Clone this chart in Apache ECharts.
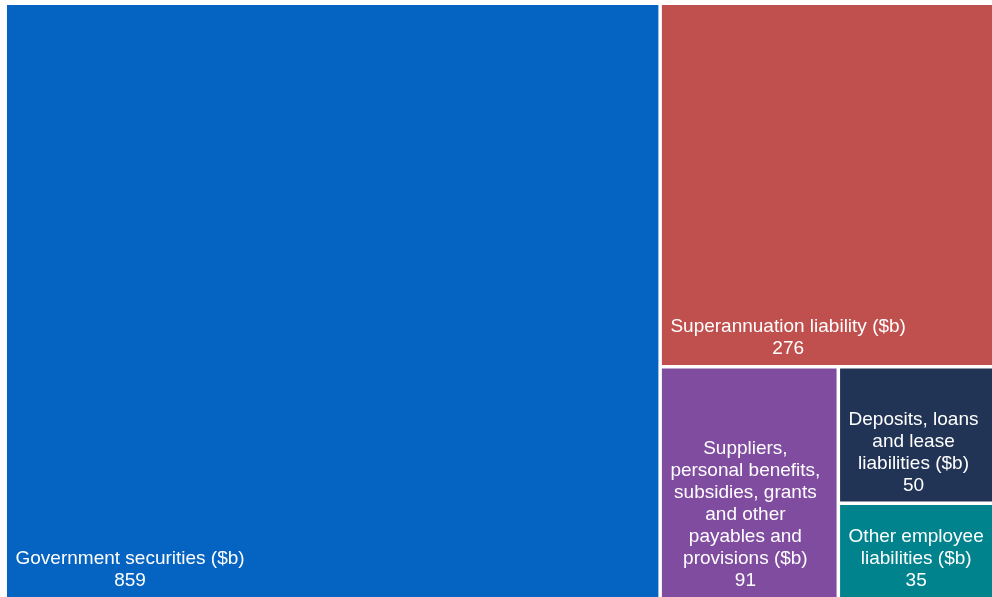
<!DOCTYPE html>
<html>
<head>
<meta charset="utf-8">
<title>Liabilities ($b)</title>
<script src="https://cdn.jsdelivr.net/npm/echarts@6/dist/echarts.min.js"></script>
<style>
  html, body { margin: 0; padding: 0; background: #ffffff; overflow: hidden; }
  #chart { width: 992px; height: 597px; }
</style>
</head>
<body>
<div id="chart"></div>
<script>
// Liability categories (line breaks are where the labels wrap) and their values in $b
const categories = [
  'Government securities ($b)',
  'Superannuation liability ($b)',
  'Suppliers,\npersonal benefits,\nsubsidies, grants\nand other\npayables and\nprovisions ($b)',
  'Deposits, loans\nand lease\nliabilities ($b)',
  'Other employee\nliabilities ($b)'
];
const values = [859, 276, 91, 50, 35];

const palette = ['#0563C1', '#C0504D', '#804CA0', '#213455', '#00838D'];

const FONT_SIZE = 19;
const FONT_FAMILY = '"Liberation Sans", Arial, sans-serif';
const LINE_HEIGHT = 22;
const LABEL_LEFT = 8.5;
const LABEL_BOTTOM = 5;

// Width of the widest label line, so each label block sits at the bottom-left
// of its tile with its lines centred within the block.
const measureCtx = document.createElement('canvas').getContext('2d');
measureCtx.font = FONT_SIZE + 'px ' + FONT_FAMILY;
function blockWidth(text) {
  return Math.max.apply(null, text.split('\n').map(function (l) {
    return measureCtx.measureText(l).width;
  }));
}

const seriesData = categories.map(function (name, i) {
  const w = blockWidth(name + '\n' + values[i]);
  return {
    name: name,
    value: values[i],
    itemStyle: { color: palette[i] },
    label: { position: [LABEL_LEFT + w / 2, '100%'] }
  };
});

const chart = echarts.init(document.getElementById('chart'), null, { renderer: 'canvas' });
chart.setOption({
  animation: false,
  tooltip: { show: false },
  series: [{
    type: 'treemap',
    // the tile area runs a little past the right edge of the page
    left: 7,
    top: 5,
    right: -11,
    bottom: 0,
    roam: false,
    nodeClick: false,
    squareRatio: 1,
    breadcrumb: { show: false },
    itemStyle: { borderWidth: 0, gapWidth: 3.5, borderColor: '#ffffff' },
    label: {
      show: true,
      formatter: '{b}\n{c}',
      align: 'center',
      verticalAlign: 'bottom',
      padding: [0, 0, LABEL_BOTTOM, 0],
      color: '#ffffff',
      fontSize: FONT_SIZE,
      fontFamily: FONT_FAMILY,
      lineHeight: LINE_HEIGHT,
      overflow: 'none'
    },
    emphasis: { disabled: true },
    data: seriesData
  }]
});
</script>
</body>
</html>
